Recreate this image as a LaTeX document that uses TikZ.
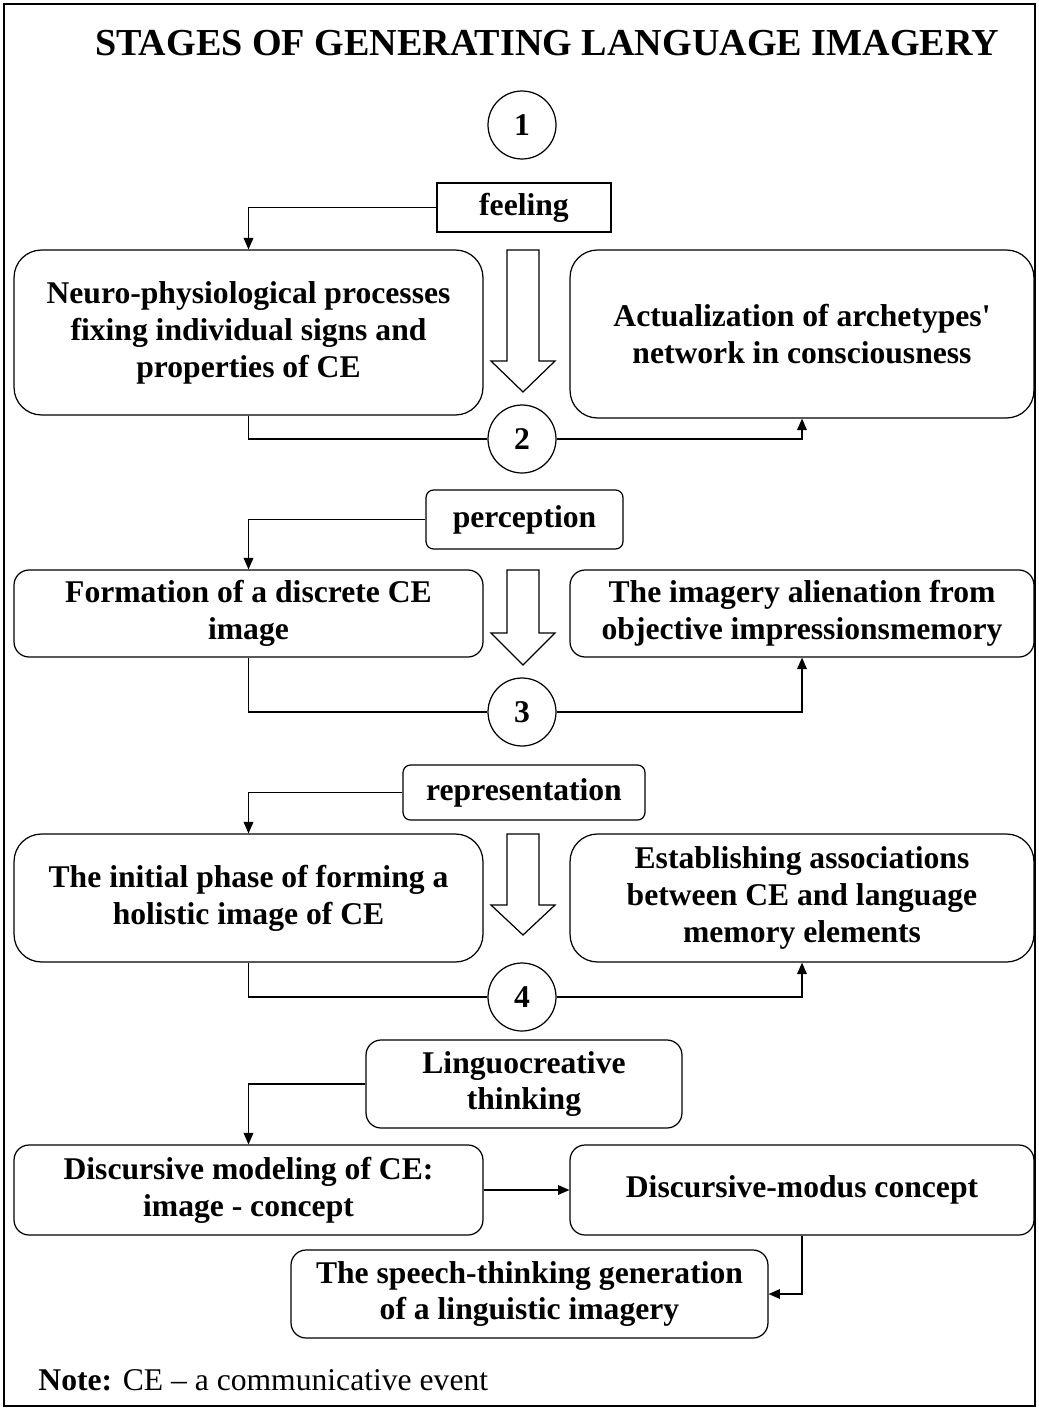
\documentclass[tikz,border=0pt]{standalone}
\usepackage{fontspec}
\setmainfont{Liberation Serif}
\usetikzlibrary{arrows.meta}

\newcommand{\bodyfont}{\fontsize{18}{21}\selectfont\bfseries}

\tikzset{
    card/.style={draw, rounded corners=0.3cm, align=center, font=\bodyfont, inner sep=0pt},
    bigcard/.style={card, rounded corners=0.55cm},
    tag/.style={draw, align=center, font=\bodyfont, inner sep=0pt},
    num/.style={draw, circle, minimum size=1.36cm, inner sep=0pt, font=\bodyfont},
    link/.style={-{Triangle[width=5.5pt,length=6.5pt]}},
}

\begin{document}
\begin{tikzpicture}[x=0.02cm, y=-0.02cm, line width=0.7pt]
    \useasboundingbox (0,0) rectangle (1038,1409);
    % Frame
    \draw (4,4) rectangle (1035,1406);

    % Title
    \node[font=\fontsize{21.7}{24}\selectfont\bfseries] (title) at (547,43)
        {STAGES OF GENERATING LANGUAGE IMAGERY};

    % Stage numbers
    \foreach \n/\y in {1/125, 2/439, 3/712, 4/997}
        \node[num] (c\n) at (522,\y) {\n};

    % Stage names
    \node[tag, minimum width=3.48cm, minimum height=0.98cm] (feel) at (524,207.5) {feeling};
    \node[tag, rounded corners=0.15cm, minimum width=3.94cm, minimum height=1.18cm] (perc) at (524.5,519.5) {perception};
    \node[tag, rounded corners=0.15cm, minimum width=4.84cm, minimum height=1.1cm] (repr) at (524,792.5) {representation};
    \node[card, minimum width=6.32cm, minimum height=1.76cm] (ling) at (524,1084) {Linguocreative\\thinking};

    % Left column
    \node[bigcard, minimum width=9.38cm, minimum height=3.3cm] (a1) at (248.5,332.5)
        {Neuro-physiological processes\\fixing individual signs and\\properties of CE};
    \node[card, minimum width=9.38cm, minimum height=1.74cm] (a2) at (248.5,613.5)
        {Formation of a discrete CE\\image};
    \node[bigcard, minimum width=9.38cm, minimum height=2.56cm] (a3) at (248.5,898)
        {The initial phase of forming a\\holistic image of CE};
    \node[card, minimum width=9.38cm, minimum height=1.8cm] (a4) at (248.5,1190)
        {Discursive modeling of CE:\\image - concept};

    % Right column
    \node[bigcard, minimum width=9.28cm, minimum height=3.36cm] (b1) at (802,334)
        {Actualization of archetypes\textquotesingle\\network in consciousness};
    \node[card, minimum width=9.28cm, minimum height=1.74cm] (b2) at (802,613.5)
        {The imagery alienation from\\objective impressionsmemory};
    \node[bigcard, minimum width=9.28cm, minimum height=2.56cm] (b3) at (802,898)
        {Establishing associations\\between CE and language\\memory elements};
    \node[card, minimum width=9.28cm, minimum height=1.8cm] (b4) at (802,1190)
        {Discursive-modus concept};

    % Result
    \node[card, minimum width=9.54cm, minimum height=1.76cm] (res) at (529.5,1294)
        {The speech-thinking generation\\of a linguistic imagery};

    % Hollow arrows
    \foreach \t/\b/\p in {250/361/392, 570/633/665, 834/905/935}
        \draw (507,\t) -- (539,\t) -- (539,\b) -- (555,\b) -- (523,\p)
              -- (491,\b) -- (507,\b) -- cycle;

    % Connectors
    \draw[link] (feel.west) -| (a1.north);
    \draw (a1.south) |- (c2.west);
    \draw[link] (c2.east) -| (b1.south);

    \draw[link] (perc.west) -| (a2.north);
    \draw (a2.south) |- (c3.west);
    \draw[link] (c3.east) -| (b2.south);

    \draw[link] (repr.west) -| (a3.north);
    \draw (a3.south) |- (c4.west);
    \draw[link] (c4.east) -| (b3.south);

    \draw[link] (ling.west) -| (a4.north);
    \draw[link] (a4.east) -- (b4.west);
    \draw[link] (b4.south) |- (res.east);

    % Note
    \node[anchor=west, font=\fontsize{18}{21}\selectfont] (note) at (32,1380)
        {\textbf{Note:} CE -- a communicative event};
\end{tikzpicture}
\end{document}
